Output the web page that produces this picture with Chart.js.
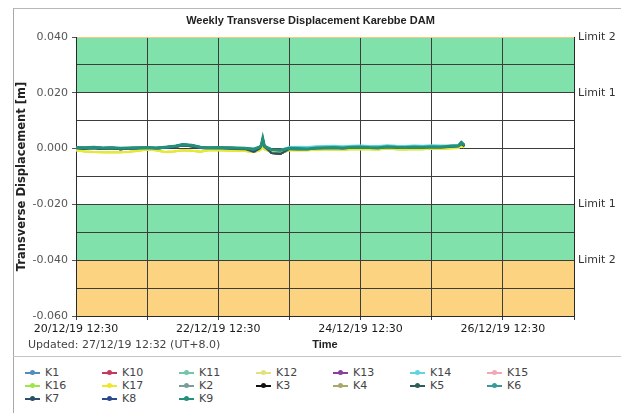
<!DOCTYPE html>
<html>
<head>
<meta charset="utf-8">
<title>Weekly Transverse Displacement Karebbe DAM</title>
<script src="https://cdn.jsdelivr.net/npm/chart.js@4.4.0/dist/chart.umd.min.js"></script>
<style>
  body { margin: 0; background: #fff; font-family: 'DejaVu Sans', sans-serif; }
  #wrap { position: relative; width: 621px; height: 413px; overflow: hidden; }
  #frame { position: absolute; left: 13px; top: 8px; width: 620px; height: 420px; border-left: 1px solid #a8a8a8; border-top: 1px solid #b8b8b8; }
  #chart { position: absolute; left: 0; top: 0; }
  #sep { position: absolute; left: 13px; top: 356px; width: 620px; border-top: 1px solid #c4c4c4; }
  #legend { position: absolute; left: 25px; top: 366px; display: grid; grid-template-columns: repeat(7, 77px); grid-auto-rows: 13px; font-size: 11px; color: #444; }
  .item { display: flex; align-items: center; white-space: nowrap; }
  .mark { position: relative; width: 15px; height: 2px; margin-right: 5px; }
  .dot { position: absolute; left: 5px; top: -1.5px; width: 5px; height: 5px; border-radius: 50%; }
</style>
</head>
<body>
<div id="wrap">
  <div id="frame"></div>
  <canvas id="chart" width="621" height="356"></canvas>
  <div id="sep"></div>
  <div id="legend"></div>
</div>
<script>
'use strict';

// hours since 20/12/19 12:30
const hours = [0, 3, 6, 9, 12, 15, 18, 21, 24, 27, 30, 33, 36, 39, 42, 45, 48, 51, 54, 57, 60,
  62, 62.5, 63, 63.5, 64, 66, 69,
  72, 75, 78, 81, 84, 87, 90, 93, 96, 99, 102, 105, 108, 111, 114, 117, 120, 123, 126, 129,
  130, 131];

const k9Values = [0.0004, 0.0003, 0.0005, 0.0002, 0.0003, 0.0001, 0.0002, 0.0003, 0.0004, 0.0002,
  0.0005, 0.0008, 0.0015, 0.0012, 0.0005, 0.0003, 0.0004, 0.0003, 0.0002, 0.0001, -0.0002,
  0.0006, 0.0012, 0.0036, 0.0012, 0.0006, -0.0004, -0.0006,
  0.0001, 0.0000, -0.0001, 0.0002, 0.0003, 0.0004, 0.0002, 0.0005, 0.0006, 0.0004, 0.0003, 0.0007,
  0.0005, 0.0004, 0.0006, 0.0005, 0.0007, 0.0006, 0.0008, 0.0010,
  0.0022, 0.0012];

const k7Values = [0.0001, 0.0000, 0.0002, -0.0001, 0.0001, -0.0002, 0.0000, 0.0001, 0.0002, 0.0000,
  0.0003, 0.0006, 0.0011, 0.0008, 0.0002, 0.0001, 0.0002, 0.0000, -0.0001, -0.0002, -0.0012,
  0.0000, 0.0008, 0.0022, 0.0006, 0.0002, -0.0016, -0.0018,
  -0.0002, -0.0003, -0.0002, 0.0000, 0.0001, 0.0002, 0.0000, 0.0003, 0.0004, 0.0002, 0.0001, 0.0005,
  0.0003, 0.0002, 0.0004, 0.0003, 0.0005, 0.0004, 0.0006, 0.0008,
  0.0016, 0.0009];

const k14Values = [0.0004, 0.0004, 0.0005, 0.0003, 0.0004, 0.0002, 0.0003, 0.0004, 0.0004, 0.0003,
  0.0005, 0.0007, 0.0012, 0.0010, 0.0005, 0.0004, 0.0004, 0.0004, 0.0003, 0.0002, 0.0000,
  0.0006, 0.0010, 0.0026, 0.0010, 0.0006, -0.0004, -0.0005,
  0.0006, 0.0007, 0.0006, 0.0008, 0.0009, 0.0010, 0.0008, 0.0010, 0.0011, 0.0009, 0.0009, 0.0012,
  0.0010, 0.0009, 0.0011, 0.0010, 0.0012, 0.0011, 0.0012, 0.0014,
  0.0020, 0.0015];

const k17Values = [-0.0006, -0.0010, -0.0012, -0.0013, -0.0012, -0.0013, -0.0011, -0.0008, -0.0003, -0.0006,
  -0.0012, -0.0010, -0.0006, -0.0008, -0.0011, -0.0005, -0.0006, -0.0007, -0.0008, -0.0009, -0.0012,
  -0.0006, -0.0002, 0.0010, -0.0002, -0.0004, -0.0014, -0.0016,
  -0.0006, -0.0005, -0.0006, -0.0004, -0.0003, -0.0002, -0.0004, -0.0002, -0.0001, -0.0002, -0.0003, 0.0000,
  -0.0002, -0.0003, -0.0001, -0.0002, 0.0000, -0.0001, 0.0001, 0.0002,
  0.0010, 0.0004];

const seriesNames = ['K1', 'K10', 'K11', 'K12', 'K13', 'K14', 'K15', 'K16', 'K17',
  'K2', 'K3', 'K4', 'K5', 'K6', 'K7', 'K8', 'K9'];
const seriesColors = ['#4f8fc0', '#c8385e', '#70c8a8', '#e2e27a', '#8a3f9e', '#5ed6e0', '#f0a8b8', '#9ee54a', '#ece82a',
  '#7d9d9a', '#111111', '#a8a868', '#2e5e58', '#3a9a9a', '#2b4f66', '#2b4a8e', '#25907a'];
const seriesValues = [k9Values, k9Values, k9Values, k17Values, k9Values, k14Values, k9Values, k17Values, k17Values,
  k9Values, k7Values, k9Values, k7Values, k9Values, k7Values, k7Values, k9Values];
const seriesOrder = [6, 6, 6, 6, 6, 2, 6, 6, 3, 6, 6, 6, 5, 5, 1, 5, 0];

const xTickHours = [0, 24, 48, 72, 96, 120, 144, 168];
const xTickLabels = ['20/12/19 12:30', '', '22/12/19 12:30', '', '24/12/19 12:30', '', '26/12/19 12:30', ''];

const yTickValues = [-0.06, -0.05, -0.04, -0.03, -0.02, -0.01, 0, 0.01, 0.02, 0.03, 0.04];
const yTickLabels = ['-0.060', '', '-0.040', '', '-0.020', '', '0.000', '', '0.020', '', '0.040'];

const limitValues = [-0.04, -0.02, 0.02, 0.04];
const limitLabels = ['Limit 2', 'Limit 1', 'Limit 1', 'Limit 2'];

const bandLows = [0.02, -0.04, -0.06];
const bandHighs = [0.04, -0.02, -0.04];
const bandColors = ['#80e1aa', '#80e1aa', '#fcd481'];

const updatedNote = 'Updated: 27/12/19 12:32 (UT+8.0)';

const tickFont = { family: "'DejaVu Sans', sans-serif", size: 11 };

// limit zones behind the grid
const limitBands = {
  id: 'limitBands',
  beforeDraw(chart) {
    const { ctx, chartArea, scales } = chart;
    ctx.save();
    bandLows.forEach((low, i) => {
      const top = scales.y.getPixelForValue(bandHighs[i]);
      const bottom = scales.y.getPixelForValue(low);
      ctx.fillStyle = bandColors[i];
      ctx.fillRect(chartArea.left, top, chartArea.right - chartArea.left, bottom - top);
    });
    ctx.restore();
  }
};

const noteText = {
  id: 'noteText',
  afterDraw(chart) {
    const ctx = chart.ctx;
    ctx.save();
    ctx.font = "11px 'DejaVu Sans', sans-serif";
    ctx.fillStyle = '#444';
    ctx.textBaseline = 'middle';
    ctx.fillText(updatedNote, 28, 345);
    ctx.restore();
  }
};

const datasets = seriesNames.map((name, i) => ({
  label: name,
  data: hours.map((h, j) => ({ x: h, y: seriesValues[i][j] })),
  borderColor: seriesColors[i],
  backgroundColor: seriesColors[i],
  borderWidth: name === 'K9' ? 3 : 2,
  pointRadius: 0,
  tension: 0,
  order: seriesOrder[i]
}));

const chart = new Chart(document.getElementById('chart'), {
  type: 'line',
  data: { datasets },
  options: {
    responsive: false,
    animation: false,
    devicePixelRatio: 1,
    layout: { padding: 0 },
    plugins: {
      legend: { display: false },
      tooltip: { enabled: false },
      title: {
        display: true,
        text: 'Weekly Transverse Displacement Karebbe DAM',
        color: '#222',
        font: { family: "'Liberation Sans', sans-serif", size: 11, weight: 'bold', lineHeight: '13px' },
        padding: { top: 14, bottom: 10 }
      }
    },
    scales: {
      x: {
        type: 'linear',
        min: 0,
        max: 168,
        afterBuildTicks: s => { s.ticks = xTickHours.map(v => ({ value: v })); },
        afterFit: s => { s.height = 40; },
        ticks: {
          autoSkip: false,
          maxRotation: 0,
          padding: 3,
          color: '#1a1a1a',
          font: tickFont,
          callback: (v, i) => xTickLabels[i]
        },
        grid: { color: '#3c3c3c', tickLength: 4, tickColor: '#3c3c3c' },
        border: { color: '#2a2a2a' },
        title: {
          display: true,
          text: 'Time',
          color: '#222',
          font: { family: "'Liberation Sans', sans-serif", size: 11, weight: 'bold' },
          padding: { top: 0, bottom: 4 }
        }
      },
      y: {
        min: -0.06,
        max: 0.04,
        afterBuildTicks: s => { s.ticks = yTickValues.map(v => ({ value: v })); },
        afterFit: s => { s.width = 76; },
        ticks: {
          autoSkip: false,
          padding: 4,
          color: '#555',
          font: tickFont,
          callback: (v, i) => yTickLabels[i]
        },
        grid: {
          color: ctx => (ctx.tick && ctx.tick.value === 0.04 ? '#f6c978' : '#3c3c3c'),
          tickLength: 4,
          tickColor: ctx => (ctx.index % 2 === 0 ? '#555' : 'rgba(0,0,0,0)')
        },
        border: { color: '#2a2a2a' },
        title: {
          display: true,
          text: 'Transverse Displacement [m]',
          color: '#222',
          font: { family: "'DejaVu Sans', sans-serif", size: 11.5, weight: 'bold' },
          padding: { top: 15, bottom: 0 }
        }
      },
      y2: {
        position: 'right',
        min: -0.06,
        max: 0.04,
        afterBuildTicks: s => { s.ticks = limitValues.map(v => ({ value: v })); },
        afterFit: s => { s.width = 47; },
        ticks: {
          autoSkip: false,
          padding: 4,
          color: '#333',
          font: tickFont,
          callback: (v, i) => limitLabels[i]
        },
        grid: { display: false, drawTicks: false },
        border: { display: true, color: '#2a2a2a' }
      }
    }
  },
  plugins: [limitBands, noteText]
});

// legend in 7 columns below the chart
const legendEl = document.getElementById('legend');
chart.data.datasets.forEach(ds => {
  const item = document.createElement('div');
  item.className = 'item';
  item.innerHTML = `<span class="mark" style="background:${ds.borderColor}"><span class="dot" style="background:${ds.borderColor}"></span></span>${ds.label}`;
  legendEl.appendChild(item);
});
</script>
</body>
</html>
